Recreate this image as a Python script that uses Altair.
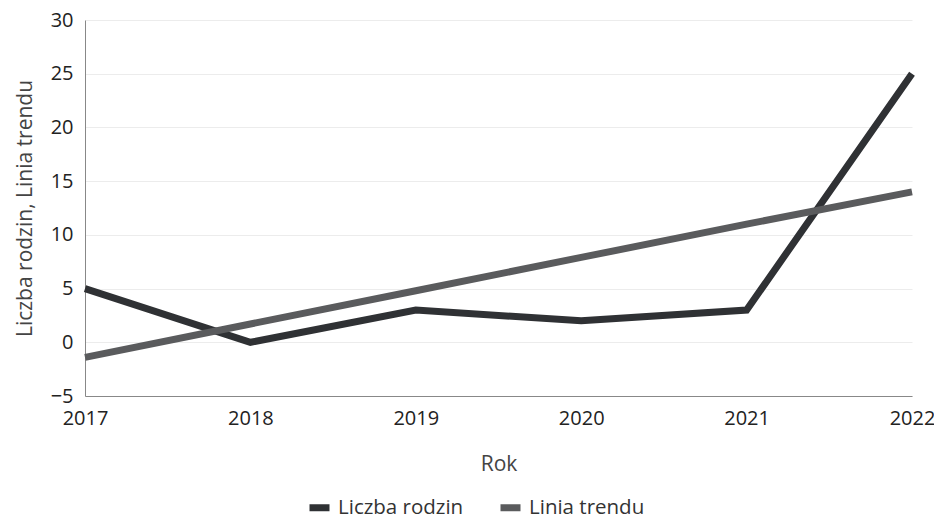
import altair as alt
import pandas as pd

years = [2017, 2018, 2019, 2020, 2021, 2022]
liczba_rodzin = [5, 0, 3, 2, 3, 25]
linia_trendu = [-1.4, 1.7, 4.8, 7.9, 11.0, 14.0]
series_names = ["Liczba rodzin", "Linia trendu"]
series_colors = ["#2f3134", "#5a5b5d"]
y_ticks = [-5, 0, 5, 10, 15, 20, 25, 30]

rows = []
for name, vals in zip(series_names, [liczba_rodzin, linia_trendu]):
    for yr, v in zip(years, vals):
        rows.append({"Rok": yr, "value": v, "series": name})
df = pd.DataFrame(rows)

font = "Open Sans"

chart = alt.Chart(df).mark_line(strokeWidth=7, strokeCap="butt", strokeJoin="miter").encode(
    x=alt.X("Rok:Q",
            scale=alt.Scale(domain=[2017, 2022], nice=False, zero=False),
            axis=alt.Axis(values=years, format="d", title="Rok", grid=False,
                          ticks=False, labelPadding=12, titlePadding=25,
                          domainColor="#888888", labelFlush=False)),
    y=alt.Y("value:Q",
            scale=alt.Scale(domain=[-5, 30], nice=False),
            axis=alt.Axis(values=y_ticks, title="Liczba rodzin, Linia trendu",
                          ticks=False, labelPadding=12, titlePadding=15,
                          titleLimit=400,
                          domainColor="#888888", gridColor="#ececec")),
    color=alt.Color("series:N",
                    scale=alt.Scale(domain=series_names, range=series_colors),
                    legend=alt.Legend(title=None, orient="none", direction="horizontal",
                                      legendX=221, legendY=474,
                                      symbolType="M-1,0H1",
                                      symbolSize=400, symbolStrokeWidth=7,
                                      symbolOpacity=1, columnPadding=22,
                                      labelFontSize=20.5, labelFont=font,
                                      labelColor="#333333", labelOffset=5)),
    order=alt.Order("series:N"),
).properties(
    width=827, height=376,
    autosize=alt.AutoSizeParams(type="none"),
    padding={"left": 77, "top": 12, "right": 22, "bottom": 126},
).configure_axis(
    labelFont=font, titleFont=font, labelFontSize=20, titleFontSize=21,
    labelColor="#222222", titleColor="#444444", titleFontWeight="normal",
).configure_view(stroke=None)

chart.save("out.html", embed_options={"renderer": "svg", "actions": False})
